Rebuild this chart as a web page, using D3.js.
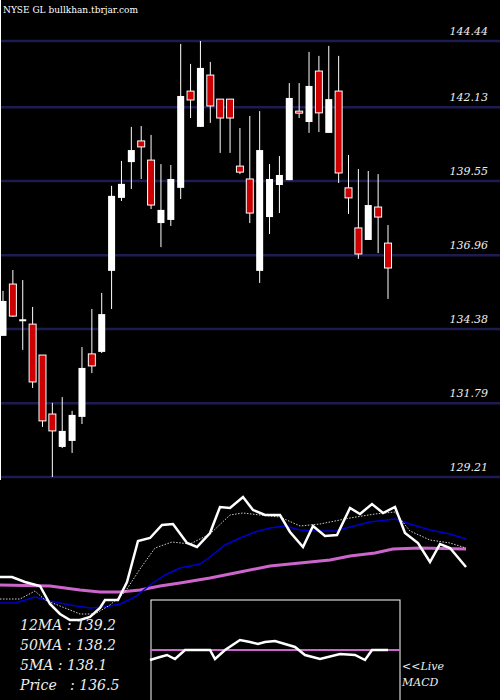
<!DOCTYPE html>
<html><head><meta charset="utf-8">
<script src="https://cdn.jsdelivr.net/npm/d3@7"></script>
<style>body{margin:0;background:#000}svg{display:block}</style>
</head><body>
<svg id="c" width="500" height="700"></svg>
<script>
// daily candles (oldest first)
const opens  = [134.14,135.95,134.69,134.55,133.47,131.41,130.26,130.47,131.31,133.51,133.58,136.41,138.96,140.21,140.95,140.28,138.08,138.19,139.31,142.69,141.44,143.25,142.41,142.41,140.07,139.62,136.41,138.29,139.41,139.58,141.99,141.61,143.39,141.23,142.69,139.31,137.91,137.49,138.64,137.38];
const highs  = [135.71,136.44,136.09,135.15,133.47,131.80,132.00,131.52,133.75,135.08,135.64,139.38,140.25,141.44,141.47,141.16,140.14,140.11,144.34,143.64,144.44,143.71,142.41,142.41,141.40,141.82,141.99,140.14,140.42,142.97,142.97,144.06,143.92,144.27,143.92,140.46,139.97,139.90,139.79,138.01];
const lows   = [134.14,134.80,133.65,132.32,130.96,129.21,130.22,130.05,131.06,132.84,133.54,135.08,138.85,139.27,139.62,138.57,137.24,137.98,138.92,141.75,141.44,141.58,140.53,140.53,139.79,138.08,135.99,137.70,138.43,139.58,141.75,141.23,141.26,141.23,139.48,138.40,136.83,137.49,137.03,135.43];
const closes = [135.36,134.83,134.72,132.53,131.17,130.82,130.82,131.38,133.02,133.09,134.90,139.03,139.45,140.63,140.74,138.71,138.54,139.62,142.52,142.38,143.50,142.17,141.75,141.75,139.86,138.43,140.63,139.62,139.76,142.45,141.93,142.87,141.93,142.41,139.83,138.96,137.00,138.71,138.29,136.51];
const priceTicks = [144.44,142.13,139.55,136.96,134.38,131.79,129.21];

// moving average panel: [position, level]
const priceLine = [[0,43],[12,43],[25,38],[40,34],[50,16],[60,6],[70,0],[80,0],[90,3],[100,12],[105,20],[118,20],[127,38],[138,79],[150,82],[162,95],[173,96],[187,77],[197,73],[210,87],[220,113],[230,112],[243,123],[253,110],[265,105],[280,105],[290,88],[303,73],[313,94],[325,84],[337,85],[350,112],[360,106],[372,116],[383,107],[395,113],[405,87],[418,77],[430,58],[440,76],[450,72],[466,53]];
const ma5 = [[0,21],[20,21],[35,29],[45,20],[60,14],[80,6],[95,6],[110,15],[125,28],[140,51],[155,72],[172,78],[190,76],[210,86],[230,105],[243,107],[260,105],[280,103],[300,94],[320,96],[340,100],[350,102],[375,106],[395,108],[410,89],[430,80],[450,77],[466,72]];
const ma12 = [[0,17],[15,17],[35,23],[50,19],[70,15],[90,12],[105,13],[120,16],[135,23],[150,35],[165,45],[180,52],[200,56],[210,63],[225,75],[240,82],[255,88],[270,92],[285,94],[300,90],[315,89],[335,89],[350,93],[370,98],[395,101],[410,96],[430,90],[450,86],[466,81]];
const ma50 = [[0,35],[50,34],[80,30],[100,28],[120,28],[140,30],[160,34],[180,37],[210,42],[240,48],[270,54],[300,57],[330,60],[350,64],[375,67],[393,71],[420,72],[466,71]];
const macd = [[150,40],[160,43],[167,45],[175,41],[185,50],[210,50],[215,41],[225,50],[240,60],[250,58],[258,56],[265,58],[275,59],[285,56],[295,53],[305,45],[320,41],[340,46],[355,45],[365,40],[372,50],[388,50]];
const macdSignal = [[150,50],[400,50]];
const legend = ["12MA : 139.2","50MA : 138.2","5MA : 138.1","Price   : 136.5"];

const svg = d3.select("#c");
svg.append("rect").attr("width",500).attr("height",700).attr("fill","#000");

const x = d3.scaleLinear().domain([0, opens.length-1]).range([3, 388]);
const y = d3.scaleLinear().domain([129.21, 144.44]).range([477, 41]);

svg.selectAll(".grid").data(priceTicks).join("line")
  .attr("x1",0).attr("x2",500).attr("y1",d=>y(d)).attr("y2",d=>y(d))
  .attr("stroke","#1c1c50").attr("stroke-width",2.5);
svg.selectAll(".tick").data(priceTicks).join("text")
  .attr("x",488).attr("y",d=>y(d)-6).attr("text-anchor","end")
  .attr("fill","#eee").attr("font-family","DejaVu Serif").attr("font-style","italic").attr("font-size",11)
  .text(d=>d.toFixed(2));
svg.append("line").attr("x1",0.5).attr("x2",0.5).attr("y1",0).attr("y2",480).attr("stroke","#fff");

const g = svg.append("g");
opens.forEach((o,i)=>{
  const c = closes[i], up = c >= o;
  g.append("line").attr("x1",x(i)).attr("x2",x(i)).attr("y1",y(highs[i])).attr("y2",y(lows[i])).attr("stroke","#fff");
  const top = y(Math.max(o,c)), h = Math.max(2, Math.abs(y(o)-y(c)));
  g.append("rect").attr("x",x(i)-3.5).attr("width",7).attr("y",top).attr("height",h)
    .attr("fill", up ? "#fff" : "#cc0000").attr("stroke","#fff").attr("stroke-width", up?0:1);
});

svg.append("text").attr("x",3).attr("y",13).attr("fill","#fff").attr("font-family","DejaVu Serif").attr("font-size",9)
  .text("NYSE GL bullkhan.tbrjar.com");

// lower panel
const mx = d3.scaleLinear().domain([0,500]).range([0,500]);
const my = d3.scaleLinear().domain([0,130]).range([620,490]);
const line = d3.line().x(d=>mx(d[0])).y(d=>my(d[1]));
svg.append("path").datum(ma50).attr("d",line).attr("fill","none").attr("stroke","#cc66cc").attr("stroke-width",3);
svg.append("path").datum(ma12).attr("d",line).attr("fill","none").attr("stroke","#0000cc").attr("stroke-width",1.5);
svg.append("path").datum(ma5).attr("d",line).attr("fill","none").attr("stroke","#fff").attr("stroke-width",0.8).attr("stroke-dasharray","1.5,1.5");
svg.append("path").datum(priceLine).attr("d",line).attr("fill","none").attr("stroke","#fff").attr("stroke-width",2.5);

// MACD box
const by = d3.scaleLinear().domain([0,100]).range([700,600]);
const bline = d3.line().x(d=>mx(d[0])).y(d=>by(d[1]));
svg.append("rect").attr("x",151).attr("y",600).attr("width",249).attr("height",105).attr("fill","#000").attr("stroke","#fff");
svg.append("path").datum(macdSignal).attr("d",bline).attr("stroke","#cc66cc").attr("stroke-width",2).attr("fill","none");
svg.append("path").datum(macd).attr("d",bline).attr("stroke","#fff").attr("stroke-width",2.5).attr("fill","none");

svg.selectAll(".leg").data(legend).join("text")
  .attr("x",20).attr("y",(d,i)=>630+i*20).attr("fill","#eee")
  .attr("font-family","DejaVu Serif").attr("font-style","italic").attr("font-size",14)
  .attr("xml:space","preserve").style("white-space","pre").text(d=>d);
svg.append("text").attr("x",402).attr("y",670).attr("fill","#eee").attr("font-family","DejaVu Serif").attr("font-style","italic").attr("font-size",11).text("<<Live");
svg.append("text").attr("x",402).attr("y",686).attr("fill","#eee").attr("font-family","DejaVu Serif").attr("font-style","italic").attr("font-size",11).text("MACD");
</script>
</body></html>
